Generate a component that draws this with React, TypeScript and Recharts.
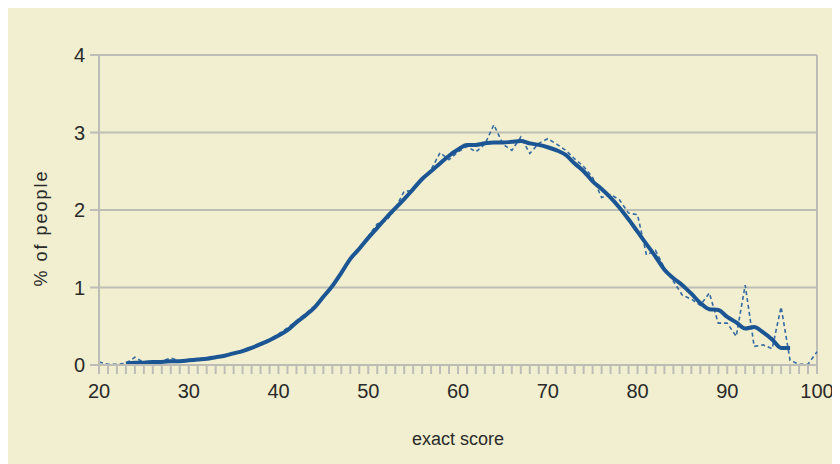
import * as React from "react";
import { CartesianGrid, Line, LineChart, ReferenceLine, XAxis, YAxis } from "recharts";

// exact score 20..100
const scores = [
  20, 21, 22, 23, 24, 25, 26, 27, 28, 29, 30, 31, 32, 33, 34, 35, 36, 37, 38, 39,
  40, 41, 42, 43, 44, 45, 46, 47, 48, 49, 50, 51, 52, 53, 54, 55, 56, 57, 58, 59,
  60, 61, 62, 63, 64, 65, 66, 67, 68, 69, 70, 71, 72, 73, 74, 75, 76, 77, 78, 79,
  80, 81, 82, 83, 84, 85, 86, 87, 88, 89, 90, 91, 92, 93, 94, 95, 96, 97, 98, 99, 100,
];

// raw % of people per score (dashed)
const rawPct = [
  0.04, 0.01, 0.01, 0.02, 0.1, 0.03, 0.04, 0.05, 0.09, 0.05, 0.06, 0.07, 0.08, 0.1, 0.13, 0.16, 0.19, 0.23, 0.28, 0.33,
  0.4, 0.48, 0.57, 0.66, 0.76, 0.88, 1.02, 1.18, 1.35, 1.5, 1.66, 1.82, 1.86, 2.02, 2.24, 2.25, 2.4, 2.52, 2.74, 2.65,
  2.75, 2.82, 2.75, 2.85, 3.1, 2.85, 2.77, 2.94, 2.73, 2.86, 2.92, 2.85, 2.77, 2.66, 2.56, 2.42, 2.16, 2.2, 2.13, 1.96,
  1.94, 1.42, 1.48, 1.25, 1.08, 0.9, 0.85, 0.77, 0.93, 0.54, 0.54, 0.37, 1.03, 0.24, 0.26, 0.21, 0.75, 0.06, 0.01, 0.01, 0.17,
];

// smoothed curve (solid), only defined for 23..97
const smoothPct = [
  null, null, null, 0.02, 0.03, 0.03, 0.04, 0.04, 0.05, 0.05, 0.06, 0.07, 0.08, 0.1, 0.12, 0.15, 0.18, 0.22, 0.27, 0.32,
  0.38, 0.45, 0.55, 0.64, 0.74, 0.88, 1.02, 1.19, 1.37, 1.5, 1.64, 1.77, 1.9, 2.02, 2.14, 2.27, 2.4, 2.5, 2.6, 2.7,
  2.78, 2.84, 2.84, 2.86, 2.87, 2.87, 2.88, 2.89, 2.86, 2.84, 2.81, 2.77, 2.71, 2.6, 2.5, 2.37, 2.27, 2.16, 2.03, 1.88,
  1.72, 1.56, 1.4, 1.23, 1.12, 1.03, 0.92, 0.8, 0.72, 0.71, 0.62, 0.55, 0.47, 0.49, 0.42, 0.33, 0.22, 0.22, null, null, null,
];

const yTicks = [0, 1, 2, 3, 4];
const xLabels = [20, 30, 40, 50, 60, 70, 80, 90, 100];

const data = scores.map((s, i) => ({ score: s, raw: rawPct[i], smooth: smoothPct[i] }));

const FONT = "'Liberation Sans', Arial, sans-serif";
const GRID = "#bdbdb5";
const TEXT = "#2a2a2a";

export default function App() {
  return (
    <div style={{ width: 832, height: 456, background: "#f1efcf", fontFamily: FONT }}>
      <LineChart
        width={832}
        height={456}
        data={data}
        margin={{ top: 47, right: 23, bottom: 39, left: 31 }}
        style={{ overflow: "visible" }}
      >
        <CartesianGrid vertical={false} stroke={GRID} strokeWidth={2} />
        <XAxis
          dataKey="score"
          type="number"
          domain={[20, 100]}
          ticks={scores}
          interval={0}
          tickFormatter={(v) => (xLabels.includes(v) ? String(v) : "")}
          tickSize={9}
          tickMargin={10}
          stroke={GRID}
          strokeWidth={2}
          height={60}
          tick={{ fill: TEXT, fontSize: 20, fontFamily: FONT }}
          label={{ value: "exact score", position: "insideBottom", offset: -20, fill: TEXT, fontSize: 18, fontFamily: FONT }}
        />
        <YAxis
          type="number"
          domain={[0, 4]}
          ticks={yTicks}
          tickSize={9}
          tickMargin={5}
          stroke={GRID}
          strokeWidth={2}
          width={60}
          tick={{ fill: TEXT, fontSize: 20, fontFamily: FONT }}
          label={{
            value: "% of people",
            angle: -90,
            position: "insideLeft",
            offset: 2,
            dy: 18,
            fill: TEXT,
            fontSize: 18,
            fontFamily: FONT,
            style: { textAnchor: "middle", letterSpacing: 2 },
          }}
        />
        <ReferenceLine x={100} stroke={GRID} strokeWidth={2} />
        <Line
          type="linear"
          dataKey="raw"
          stroke="#356aa3"
          strokeWidth={1.6}
          strokeDasharray="4 3"
          dot={false}
          isAnimationActive={false}
        />
        <Line
          type="monotone"
          dataKey="smooth"
          stroke="#1b5593"
          strokeWidth={4}
          dot={false}
          connectNulls={false}
          isAnimationActive={false}
        />
      </LineChart>
    </div>
  );
}
